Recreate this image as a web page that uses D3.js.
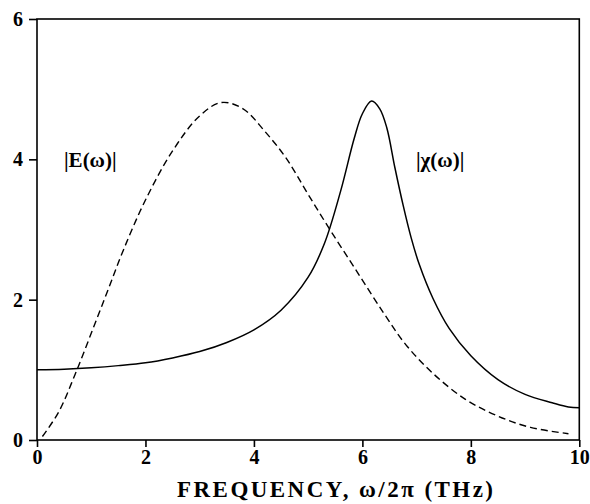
<!DOCTYPE html>
<html>
<head>
<meta charset="utf-8">
<script src="https://d3js.org/d3.v7.min.js"></script>
<style>
	body { margin: 0; background: #fff; }
	svg { display: block; }
	.tick-label { font-family: "Liberation Serif", "DejaVu Serif", serif; font-weight: bold; font-size: 20px; fill: #000; }
	.curve-label { font-family: "Liberation Serif", "DejaVu Serif", serif; font-weight: bold; font-size: 21px; fill: #000; }
</style>
</head>
<body>
<div id="chart"></div>
<script>
	// values
	var chiFreq = [0, 0.5, 1.0, 1.5, 2.0, 2.5, 3.0, 3.5, 4.0, 4.5, 5.0, 5.3, 5.6, 5.85, 6.0, 6.17, 6.32, 6.45, 6.6, 6.75, 6.9, 7.05, 7.3, 7.6, 8.0, 8.5, 9.0, 9.5, 9.8, 10];
	var chiVals = [1.0, 1.01, 1.03, 1.06, 1.10, 1.17, 1.26, 1.39, 1.57, 1.85, 2.32, 2.80, 3.55, 4.3, 4.65, 4.83, 4.72, 4.45, 3.88, 3.35, 2.88, 2.5, 2.02, 1.59, 1.2, 0.86, 0.65, 0.53, 0.47, 0.46];

	var eFreq = [0.1, 0.4, 0.7, 1.0, 1.3, 1.6, 2.0, 2.5, 3.0, 3.4, 3.8, 4.2, 4.6, 5.0, 5.4, 5.9, 6.4, 6.8, 7.3, 7.9, 8.5, 9.1, 9.8];
	var eVals = [0.05, 0.40, 0.93, 1.52, 2.12, 2.72, 3.42, 4.12, 4.62, 4.81, 4.72, 4.40, 4.01, 3.50, 3.0, 2.40, 1.80, 1.36, 0.95, 0.58, 0.34, 0.18, 0.09];

	var xTicks = [0, 2, 4, 6, 8, 10];
	var yTicks = [0, 2, 4, 6];

	var width = 590, height = 504;
	var margin = {top: 19, right: 10, bottom: 64, left: 37};

	var svg = d3.select("#chart").append("svg")
		.attr("width", width)
		.attr("height", height);

	var x = d3.scaleLinear().domain([0, 10]).range([margin.left, width - margin.right - 0.7]);
	var y = d3.scaleLinear().domain([0, 6]).range([height - margin.bottom, margin.top]);

	// frame
	svg.append("rect")
		.attr("x", x(0))
		.attr("y", y(6))
		.attr("width", x(10) - x(0))
		.attr("height", y(0) - y(6))
		.attr("fill", "none")
		.attr("stroke", "#000")
		.attr("stroke-width", 1.6);

	// axes
	var xAxis = d3.axisBottom(x).tickValues(xTicks).tickSize(7).tickFormat(d3.format("d"));
	var gx = svg.append("g").attr("transform", "translate(0," + y(0) + ")").call(xAxis);
	gx.select(".domain").remove();
	gx.selectAll("line").attr("stroke-width", 1.6);
	gx.selectAll("text").attr("class", "tick-label").attr("dy", "1.05em").attr("y", 3);

	var yAxis = d3.axisLeft(y).tickValues(yTicks).tickSize(8).tickFormat(d3.format("d"));
	var gy = svg.append("g").attr("transform", "translate(" + x(0) + ",0)").call(yAxis);
	gy.select(".domain").remove();
	gy.selectAll("line").attr("stroke-width", 1.6);
	gy.selectAll("text").attr("class", "tick-label").attr("x", -14);

	// x label
	svg.append("text")
		.attr("class", "tick-label")
		.attr("x", 177)
		.attr("y", 497)
		.attr("textLength", 316)
		.attr("lengthAdjust", "spacing")
		.style("font-size", "23px")
		.text("FREQUENCY, ω/2π (THz)");

	var line = d3.line()
		.x(function(d) { return x(d[0]); })
		.y(function(d) { return y(d[1]); })
		.curve(d3.curveCatmullRom.alpha(0.5));

	svg.append("path")
		.datum(d3.zip(chiFreq, chiVals))
		.attr("d", line)
		.attr("fill", "none")
		.attr("stroke", "#000")
		.attr("stroke-width", 1.5);

	svg.append("path")
		.datum(d3.zip(eFreq, eVals))
		.attr("d", line)
		.attr("fill", "none")
		.attr("stroke", "#000")
		.attr("stroke-width", 1.4)
		.attr("stroke-dasharray", "7,4");

	// curve labels
	svg.append("text")
		.attr("class", "curve-label")
		.attr("x", 64)
		.attr("y", 167)
		.text("|E(ω)|");

	svg.append("text")
		.attr("class", "curve-label")
		.attr("x", 416)
		.attr("y", 167)
		.text("|χ(ω)|");
</script>
</body>
</html>
